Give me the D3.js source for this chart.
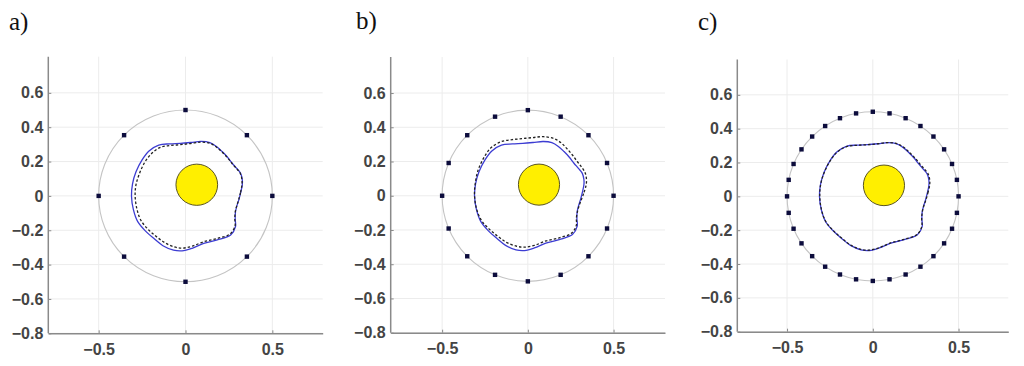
<!DOCTYPE html>
<html><head><meta charset="utf-8">
<script src="https://cdn.jsdelivr.net/npm/d3@7"></script>
<style>html,body{margin:0;padding:0;background:#fff;}svg{display:block;}</style>
</head><body>
<svg id="chart" width="1024" height="366"></svg>
<script>
// ---------- data ----------
const panelLabels = ["a)", "b)", "c)"];
const xTicks = [-0.5, 0, 0.5];
const yTicks = [0.6, 0.4, 0.2, 0, -0.2, -0.4, -0.6, -0.8];
const sensorRadius = 0.5;
const sensorAnglesA = [0, 45, 90, 135, 180, 225, 270, 315];
const sensorAnglesB = [0, 22.5, 45, 67.5, 90, 112.5, 135, 157.5, 180, 202.5, 225, 247.5, 270, 292.5, 315, 337.5];
const sensorAnglesC = [0, 11.25, 22.5, 33.75, 45, 56.25, 67.5, 78.75, 90, 101.25, 112.5, 123.75, 135, 146.25, 157.5, 168.75,
  180, 191.25, 202.5, 213.75, 225, 236.25, 247.5, 258.75, 270, 281.25, 292.5, 303.75, 315, 326.25, 337.5, 348.75];
const inclusionCenter = [0.065, 0.065];
const inclusionRadius = 0.12;

// true boundary (blue solid)
const trueBoundary = [
  [0.307, -0.023], [0.318, 0.02], [0.327, 0.064], [0.327, 0.095], [0.317, 0.132], [0.295, 0.16], [0.269, 0.19],
  [0.242, 0.225], [0.211, 0.258], [0.178, 0.288], [0.14, 0.31], [0.09, 0.317], [0.03, 0.311], [-0.03, 0.306],
  [-0.09, 0.303], [-0.154, 0.296], [-0.21, 0.262], [-0.25, 0.21], [-0.285, 0.14], [-0.305, 0.07], [-0.311, 0.0],
  [-0.30, -0.08], [-0.275, -0.15], [-0.23, -0.205], [-0.18, -0.25], [-0.13, -0.29], [-0.069, -0.316], [-0.02, -0.32],
  [0.038, -0.305], [0.105, -0.277], [0.183, -0.256], [0.26, -0.227], [0.288, -0.178], [0.286, -0.135], [0.288, -0.091],
  [0.296, -0.058]
];
// reconstructed boundaries (black dashed)
const reconA = [
  [0.306, -0.023], [0.317, 0.02], [0.325, 0.064], [0.325, 0.095], [0.315, 0.132], [0.293, 0.16], [0.267, 0.19],
  [0.24, 0.225], [0.209, 0.257], [0.176, 0.286], [0.138, 0.307], [0.09, 0.313], [0.03, 0.305], [-0.03, 0.298],
  [-0.09, 0.293], [-0.145, 0.283], [-0.195, 0.247], [-0.235, 0.195], [-0.265, 0.13], [-0.285, 0.065], [-0.29, 0.0],
  [-0.28, -0.075], [-0.258, -0.14], [-0.215, -0.195], [-0.17, -0.235], [-0.12, -0.272], [-0.065, -0.297], [-0.02, -0.304],
  [0.038, -0.293], [0.105, -0.267], [0.183, -0.248], [0.256, -0.222], [0.285, -0.175], [0.284, -0.133], [0.287, -0.09],
  [0.295, -0.058]
];
const reconB = [
  [0.312, -0.023], [0.328, 0.02], [0.34, 0.064], [0.342, 0.095], [0.334, 0.135], [0.313, 0.168], [0.288, 0.2],
  [0.26, 0.238], [0.228, 0.275], [0.195, 0.308], [0.155, 0.333], [0.09, 0.345], [0.03, 0.34], [-0.03, 0.334],
  [-0.09, 0.328], [-0.155, 0.316], [-0.215, 0.28], [-0.255, 0.225], [-0.29, 0.15], [-0.307, 0.07], [-0.311, 0.0],
  [-0.298, -0.08], [-0.27, -0.145], [-0.225, -0.195], [-0.175, -0.237], [-0.125, -0.272], [-0.065, -0.295], [-0.02, -0.30],
  [0.038, -0.29], [0.105, -0.264], [0.183, -0.246], [0.256, -0.218], [0.283, -0.172], [0.283, -0.132], [0.29, -0.09],
  [0.30, -0.056]
];
const reconC = [
  [0.309, -0.023], [0.321, 0.02], [0.331, 0.064], [0.332, 0.095], [0.322, 0.134], [0.299, 0.163], [0.273, 0.193],
  [0.245, 0.228], [0.213, 0.26], [0.18, 0.29], [0.141, 0.311], [0.09, 0.318], [0.03, 0.311], [-0.03, 0.305],
  [-0.09, 0.302], [-0.153, 0.294], [-0.209, 0.26], [-0.249, 0.209], [-0.284, 0.139], [-0.304, 0.07], [-0.309, 0.0],
  [-0.299, -0.08], [-0.274, -0.149], [-0.229, -0.204], [-0.179, -0.249], [-0.129, -0.288], [-0.069, -0.314], [-0.02, -0.318],
  [0.038, -0.303], [0.105, -0.275], [0.183, -0.254], [0.259, -0.225], [0.286, -0.177], [0.285, -0.134], [0.289, -0.09],
  [0.297, -0.057]
];

// ---------- layout ----------
const panels = [
  {label: panelLabels[0], lx: 9,   ly: 30, sensors: sensorAnglesA, recon: reconA,
   xd: [-0.79, 0.79], xr: [48.3, 322.7], yr: [333.3, 58.5], top: 56.7},
  {label: panelLabels[1], lx: 356, ly: 29, sensors: sensorAnglesB, recon: reconB,
   xd: [-0.8, 0.8], xr: [390.7, 665], yr: [332.7, 58.8], top: 57},
  {label: panelLabels[2], lx: 698, ly: 30, sensors: sensorAnglesC, recon: reconC,
   xd: [-0.79, 0.79], xr: [737.3, 1008.3], yr: [331.7, 61], top: 59.5}
];

const svg = d3.select("#chart");

panels.forEach(p => {
  const x = d3.scaleLinear().domain(p.xd).range(p.xr);
  const y = d3.scaleLinear().domain([-0.8, 0.8]).range(p.yr);
  const g = svg.append("g");

  // panel label
  svg.append("text").attr("x", p.lx).attr("y", p.ly)
    .attr("font-family", "'Liberation Serif','Times New Roman',serif")
    .attr("font-size", 25).attr("fill", "#111").text(p.label);

  const left = p.xr[0], right = p.xr[1], bottom = p.yr[0], top = p.top;

  // grid
  g.selectAll(".vg").data(xTicks).join("line")
    .attr("x1", d => x(d)).attr("x2", d => x(d)).attr("y1", top).attr("y2", bottom)
    .attr("stroke", "#ececec").attr("stroke-width", 1);
  g.selectAll(".hg").data(yTicks).join("line")
    .attr("x1", left).attr("x2", right).attr("y1", d => y(d)).attr("y2", d => y(d))
    .attr("stroke", "#ececec").attr("stroke-width", 1);

  // axes
  const ax = g.append("g").attr("transform", `translate(0,${bottom})`)
    .call(d3.axisBottom(x).tickValues(xTicks).tickFormat(d3.format("")).tickSizeInner(-3).tickSizeOuter(0).tickPadding(9));
  const ay = g.append("g").attr("transform", `translate(${left},0)`)
    .call(d3.axisLeft(y).tickValues(yTicks).tickFormat(d3.format("")).tickSizeInner(-3).tickSizeOuter(0).tickPadding(5));
  ay.select(".domain").attr("d", `M0,${bottom}V${top}`);
  [ax, ay].forEach(a => {
    a.select(".domain").attr("stroke", "#8a8a8a").attr("stroke-width", 1.5);
    a.selectAll(".tick line").attr("stroke", "#8a8a8a");
    a.selectAll(".tick text").attr("fill", "#444").attr("font-weight", "bold")
      .attr("font-family", "'Liberation Sans',Arial,sans-serif").attr("font-size", 16);
  });
  ax.selectAll(".tick text").attr("dy", "0.8em");

  const cx = x(0), cy = y(0);
  const rx = x(sensorRadius) - x(0), ry = y(0) - y(sensorRadius);

  // sensor circle
  g.append("ellipse").attr("cx", cx).attr("cy", cy).attr("rx", rx).attr("ry", ry)
    .attr("fill", "none").attr("stroke", "#c4c4c4").attr("stroke-width", 1.1);

  // sensors
  g.selectAll(".s").data(p.sensors).join("rect")
    .attr("x", d => x(sensorRadius * Math.cos(d * Math.PI / 180)) - 2.2)
    .attr("y", d => y(sensorRadius * Math.sin(d * Math.PI / 180)) - 2.2)
    .attr("width", 4.4).attr("height", 4.4).attr("fill", "#0c0c3c");

  // inclusion
  g.append("ellipse").attr("cx", x(inclusionCenter[0])).attr("cy", y(inclusionCenter[1]))
    .attr("rx", x(inclusionRadius) - x(0)).attr("ry", y(0) - y(inclusionRadius))
    .attr("fill", "#ffef00").attr("stroke", "#5a5520").attr("stroke-width", 1);

  const line = d3.line().x(d => x(d[0])).y(d => y(d[1])).curve(d3.curveCatmullRomClosed.alpha(0.5));

  g.append("path").attr("d", line(trueBoundary)).attr("fill", "none")
    .attr("stroke", "#3c3cd2").attr("stroke-width", 1.3);
  g.append("path").attr("d", line(p.recon)).attr("fill", "none")
    .attr("stroke", "#222").attr("stroke-width", 1.3).attr("stroke-dasharray", "2.5,2");
});
</script>
</body></html>
